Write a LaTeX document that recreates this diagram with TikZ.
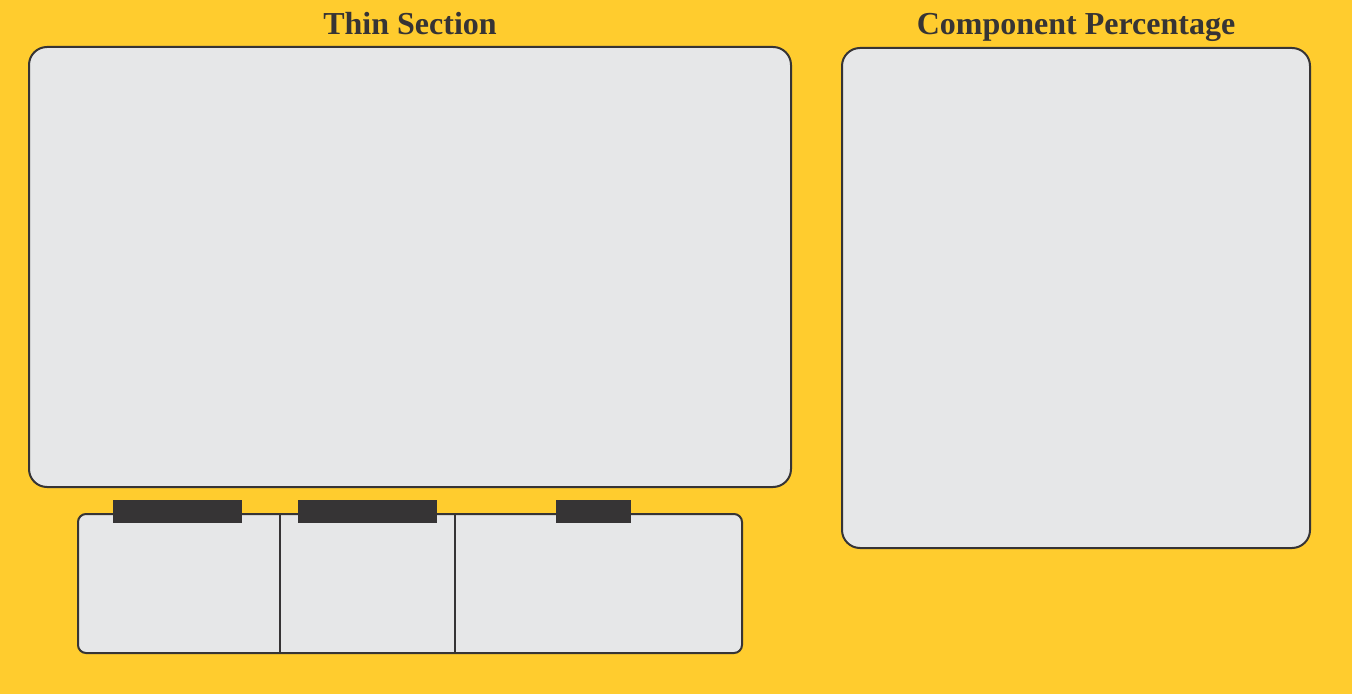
\documentclass[tikz,border=0pt]{standalone}
\usepackage{fontspec}
\setmainfont{Liberation Serif}
\usepackage{xcolor}
\usepackage{tikz}
\definecolor{sunny}{HTML}{FFCC2E}
\definecolor{panelgray}{HTML}{E6E7E8}
\definecolor{ink}{HTML}{363435}
\tikzset{
	panel/.style={draw=ink,fill=panelgray,line width=1pt,rounded corners=9pt,inner sep=0pt},
	tab/.style={fill=ink,inner sep=0pt,minimum height=11.5pt},
	heading/.style={text=ink,font=\fontsize{16}{18}\selectfont\bfseries,anchor=base,inner sep=0pt}
}
\begin{document}
\begin{tikzpicture}[x=0.5pt,y=-0.5pt]
	\fill[sunny] (0,0) rectangle (1352,694);
	\useasboundingbox (0,0) rectangle (1352,694);
	\node[panel,minimum width=381pt,minimum height=220pt] (thin) at (410,267) {};
	\node[panel,minimum width=234pt,minimum height=250pt] (perc) at (1076,298) {};
	\node[panel,rounded corners=4pt,minimum width=332pt,minimum height=69.5pt] (strip) at (410,583.5) {};
	\coordinate (cutA) at (280,514);
	\coordinate (cutB) at (455,514);
	\draw[ink,line width=1pt] (cutA) -- (cutA |- strip.south)
		(cutB) -- (cutB |- strip.south);
	\node[tab,minimum width=64.5pt] (tabA) at (177.5,511.5) {};
	\node[tab,minimum width=69.5pt] (tabB) at (367.5,511.5) {};
	\node[tab,minimum width=37.5pt] (tabC) at (593.5,511.5) {};
	\node[heading] (thinlabel) at (410,35) {Thin Section};
	\node[heading] (perclabel) at (1076,35) {Component Percentage};
\end{tikzpicture}
\end{document}
